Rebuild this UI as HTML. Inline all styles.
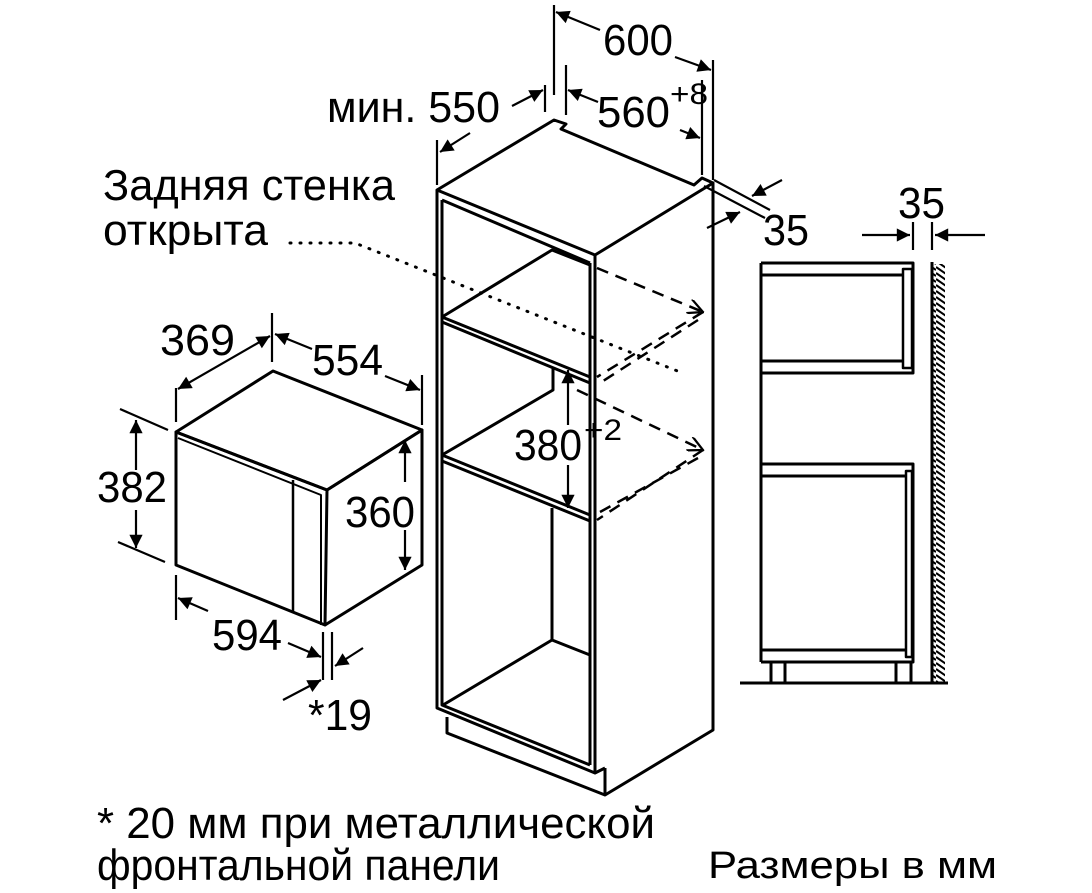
<!DOCTYPE html>
<html><head><meta charset="utf-8"><style>html,body{margin:0;padding:0;background:#fff}svg{display:block}text{font-family:"Liberation Sans",sans-serif;fill:#000}</style></head>
<body>
<svg width="1092" height="893" viewBox="0 0 1092 893" xmlns="http://www.w3.org/2000/svg">
<defs>
<marker id="a" viewBox="0 0 10 10" refX="10" refY="5" markerWidth="10" markerHeight="6" orient="auto-start-reverse" markerUnits="strokeWidth"><path d="M0,0L10,5L0,10z" fill="#000"/></marker>
<marker id="o" viewBox="0 0 10 10" refX="10" refY="5" markerWidth="7" markerHeight="6" orient="auto" markerUnits="strokeWidth"><path d="M0,0L10,5L0,10" fill="none" stroke="#000" stroke-width="1.5"/></marker>
<pattern id="h" width="13" height="6" patternUnits="userSpaceOnUse"><path d="M0,-3L13,6M0,3L13,12M0,-9L13,0" stroke="#000" stroke-width="2"/></pattern>
</defs>
<g stroke="#000" stroke-width="3" fill="none" stroke-linejoin="round">
<!-- microwave -->
<path d="M176,432L273,371L422,430L327,490Z"/>
<path d="M176,432L327,490L325,625L176,565Z"/>
<path d="M327,490L422,430L422,565L325,625"/>
<path d="M178,438L321,495L321,625" stroke-width="2"/>
<path d="M293,480L293,612" stroke-width="2.5"/>
<!-- microwave dims -->
<g stroke-width="2.2">
<path d="M176,388V422M272,313V362M422,375V425"/>
<path d="M178,389L270,336" marker-start="url(#a)" marker-end="url(#a)"/>
<path d="M275,334L312,349" marker-start="url(#a)"/>
<path d="M385,376L420,390" marker-end="url(#a)"/>
<path d="M120,409L168,430M118,542L165,562"/>
<path d="M136,420V470" marker-start="url(#a)"/><path d="M136,510V548" marker-end="url(#a)"/>
<path d="M405,440V482" marker-start="url(#a)"/><path d="M405,530V570" marker-end="url(#a)"/>
<path d="M176,575V620M323,632V680M332,632V680"/>
<path d="M178,598L208,611" marker-start="url(#a)"/>
<path d="M288,643L321,657" marker-end="url(#a)"/>
<path d="M363,648L335,666" marker-end="url(#a)"/>
<path d="M283,700L321,680" marker-end="url(#a)"/>
</g>
<!-- cabinet -->
<path d="M437,190L554,120L566,124L561,129L694,185L702,178L713,183L595,255Z"/>
<path d="M437,190V708L595,773L605,768"/>
<path d="M713,183V730L605,795L447,733V717"/>
<path d="M595,255V773M590,263V765M442,200V705L590,765"/>
<path d="M442,200L590,263"/>
<path d="M605,768V795"/>
<path d="M442,317L590,377M442,322L590,383"/>
<path d="M442,317L552,250L590,265"/>
<path d="M442,455L590,515M442,461L590,521"/>
<path d="M442,455L553,390V367"/>
<path d="M443,705L552,640L590,655M552,640V508"/>
<g stroke-width="2.5" stroke-dasharray="12,8">
<path d="M597,268L703,312" marker-end="url(#o)"/>
<path d="M703,312L597,377M698,320L600,383"/>
<path d="M577,390L703,450" marker-end="url(#o)"/>
<path d="M703,450L597,520M698,458L600,512"/>
</g>
<path d="M290,243H355L680,372" stroke-width="3" stroke-dasharray="1,9" stroke-linecap="round"/>
<g stroke-width="2.2">
<path d="M568,425V370" marker-end="url(#a)"/>
<path d="M568,465V508" marker-end="url(#a)"/>
<path d="M554,5V95M713,60V180M566,65V115M702,80V175M437,140V185M545,85V112"/>
<path d="M556,12L600,30" marker-start="url(#a)"/>
<path d="M675,57L711,70" marker-end="url(#a)"/>
<path d="M568,90L598,102" marker-start="url(#a)"/>
<path d="M680,130L700,138" marker-end="url(#a)"/>
<path d="M512,106L543,90" marker-end="url(#a)"/>
<path d="M470,133L440,152" marker-end="url(#a)"/>
<path d="M704,186L765,218M714,180L770,210"/>
<path d="M782,180L752,196" marker-end="url(#a)"/>
<path d="M707,228L740,212" marker-end="url(#a)"/>
</g>
<!-- right elevation -->
<path d="M761,263H913V373H761"/>
<path d="M761,275H903M761,361H903"/>
<path d="M903,269H912V368H903Z" stroke-width="2.5"/>
<path d="M761,263V662"/>
<path d="M761,464H913V662H761"/>
<path d="M761,476H906M761,650H906"/>
<path d="M906,471H912V657H906Z" stroke-width="2.5"/>
<path d="M771,662V683M785,662V683M896,662V683M911,662V683"/>
<path d="M740,683H948"/>
<path d="M932,262V683"/>
<rect x="933" y="264" width="12" height="418" fill="url(#h)" stroke="none"/>
<g stroke-width="2.2">
<path d="M913,222V250M932,222V250"/>
<path d="M862,235H910" marker-end="url(#a)"/>
<path d="M985,235H935" marker-end="url(#a)"/>
</g>
</g>
<g font-size="44">
<text x="603" y="55" textLength="70" lengthAdjust="spacingAndGlyphs">600</text>
<text x="327" y="122" textLength="173" lengthAdjust="spacingAndGlyphs">мин. 550</text>
<text x="597" y="127" textLength="73" lengthAdjust="spacingAndGlyphs">560</text>
<text x="670" y="104" font-size="30" textLength="38" lengthAdjust="spacingAndGlyphs">+8</text>
<text x="763" y="245" textLength="46" lengthAdjust="spacingAndGlyphs">35</text>
<text x="898" y="218" textLength="47" lengthAdjust="spacingAndGlyphs">35</text>
<text x="103" y="200" textLength="292" lengthAdjust="spacingAndGlyphs">Задняя стенка</text>
<text x="103" y="245" textLength="165" lengthAdjust="spacingAndGlyphs">открыта</text>
<text x="160" y="355" textLength="75" lengthAdjust="spacingAndGlyphs">369</text>
<text x="312" y="375" textLength="71" lengthAdjust="spacingAndGlyphs">554</text>
<text x="97" y="502" textLength="70" lengthAdjust="spacingAndGlyphs">382</text>
<text x="345" y="527" textLength="70" lengthAdjust="spacingAndGlyphs">360</text>
<text x="212" y="650" textLength="70" lengthAdjust="spacingAndGlyphs">594</text>
<text x="308" y="730" textLength="64" lengthAdjust="spacingAndGlyphs">*19</text>
<text x="514" y="460" textLength="68" lengthAdjust="spacingAndGlyphs">380</text>
<text x="584" y="440" font-size="30" textLength="38" lengthAdjust="spacingAndGlyphs">+2</text>
<text x="97" y="838" textLength="558" lengthAdjust="spacingAndGlyphs">* 20 мм при металлической</text>
<text x="97" y="880" textLength="403" lengthAdjust="spacingAndGlyphs">фронтальной панели</text>
<text x="708" y="878" font-size="38" textLength="289" lengthAdjust="spacingAndGlyphs">Размеры в мм</text>
</g>
</svg>
</body></html>
